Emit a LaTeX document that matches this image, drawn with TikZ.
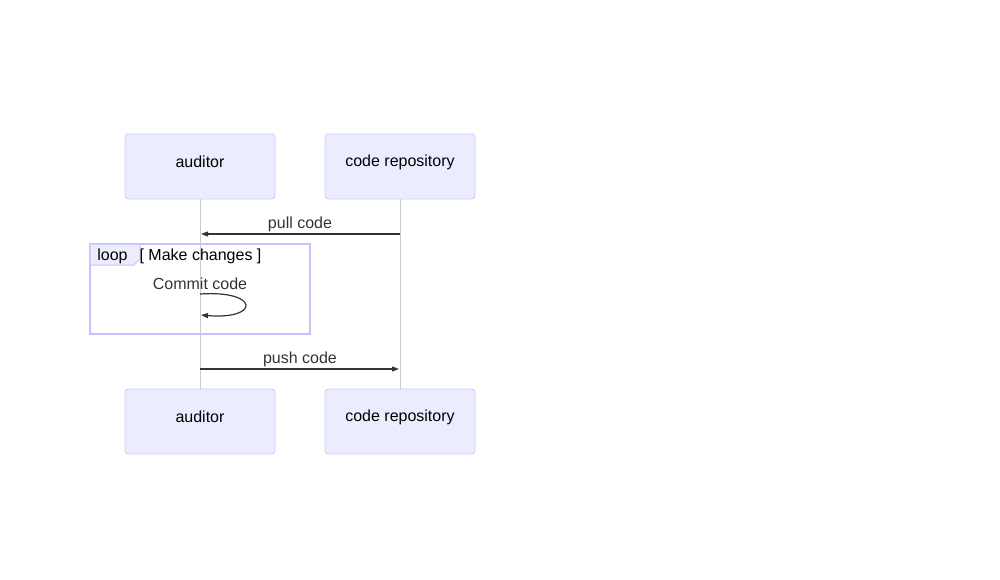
\documentclass[tikz,border=0pt]{standalone}
\usepackage{fontspec}
\setmainfont{Liberation Sans}
\usetikzlibrary{arrows.meta}
\definecolor{actfill}{HTML}{ECECFF}
\definecolor{actdraw}{HTML}{CCCCFF}
\definecolor{lifeline}{HTML}{CCCCCC}
\definecolor{msgtext}{HTML}{333333}
\definecolor{loopdraw}{HTML}{C8C0FF}
\tikzset{
  actor/.style={draw=actdraw, fill=actfill, rounded corners=3pt, minimum width=150pt, minimum height=65pt, inner sep=0pt, line width=0.8pt},
  actortext/.style={font=\fontsize{16pt}{18pt}\selectfont, text=black, inner sep=0pt},
  life/.style={draw=lifeline, line width=1pt},
  msg/.style={draw=msgtext, line width=1.2pt, -{Triangle[length=7pt,width=5pt]}},
  msglabel/.style={font=\fontsize{16pt}{18pt}\selectfont, text=msgtext, inner sep=0pt},
  loopbox/.style={draw=loopdraw, line width=1.5pt},
  looptag/.style={draw=loopdraw, fill=actfill, line width=1pt}
}
\begin{document}
\begin{tikzpicture}[x=1pt,y=-1pt]
\useasboundingbox (0,0) rectangle (1000,580);
% actors
\node[actor] (a1) at (200,166.5) {};
\node[actor] (r1) at (400,166.5) {};
\node[actor] (a2) at (200,421.5) {};
\node[actor] (r2) at (400,421.5) {};
\node[actortext] (a1t) at ([yshift=4.5pt]a1.center) {auditor};
\node[actortext] (r1t) at ([yshift=4.5pt]r1.center) {code repository};
\node[actortext] (a2t) at ([yshift=4.5pt]a2.center) {auditor};
\node[actortext] (r2t) at ([yshift=4.5pt]r2.center) {code repository};
% lifelines
\draw[life] (a1.south) -- (a2.north);
\draw[life] (r1.south) -- (r2.north);
% pull code
\coordinate (p1s) at (400,234);
\coordinate (p1e) at (201,234);
\draw[msg] (p1s) -- (p1e);
\node[msglabel] (pl) at (300,224) {pull code};
% loop frame
\draw[loopbox] (90,244) rectangle (310,334);
\draw[looptag] (90,244) -- (140,244) -- (140,259) -- (134,265) -- (90,265) -- cycle;
\node[msglabel, text=black] (lt) at (112.5,256.5) {loop};
\node[msglabel, text=black] (lc) at (200.5,256.5) {[ Make changes ]};
% self message
\node[msglabel] (cc) at (200,283.5) {Commit code};
\coordinate (s1) at (200,294);
\coordinate (s2) at (201,315);
\draw[msg] (s1) .. controls (260,290) and (260,320) .. (s2);
% push code
\coordinate (p2s) at (200,369);
\coordinate (p2e) at (399,369);
\draw[msg] (p2s) -- (p2e);
\node[msglabel] (ql) at (300,359) {push code};
\end{tikzpicture}
\end{document}
